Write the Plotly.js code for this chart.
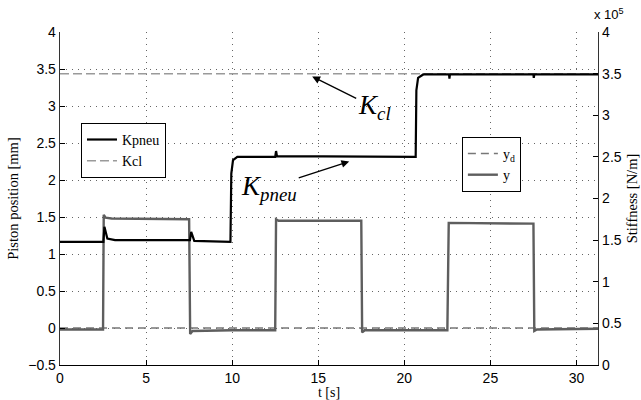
<!DOCTYPE html>
<html>
<head>
<meta charset="utf-8">
<script src="https://cdn.plot.ly/plotly-3.0.1.min.js"></script>
<style>html,body{margin:0;padding:0;background:#fff;}#chart{width:641px;height:400px;}</style>
</head>
<body>
<div id="chart"></div>
<script>
// Time samples [s] and piston position y [mm]
const tY = [0, 2.50, 2.54, 2.65, 3.0, 7.50, 7.56, 7.7, 10.0, 12.50, 12.55, 12.7, 17.50, 17.55, 17.7, 22.50, 22.58, 22.7, 27.50, 27.55, 27.7, 31.25];
const yPos = [-0.02, -0.02, 1.53, 1.49, 1.48, 1.47, -0.08, -0.04, -0.03, -0.03, 1.47, 1.45, 1.45, -0.06, -0.03, -0.03, 1.42, 1.42, 1.41, -0.04, -0.02, -0.01];

// Desired position y_d [mm]
const tYd = [0, 31.25];
const yDes = [0, 0];

// Pneumatic stiffness Kpneu [x1e5 N/m]
const tK = [0, 2.52, 2.58, 2.75, 3.2, 7.55, 7.62, 7.8, 9.90, 9.95, 10.05, 10.3, 12.50, 12.55, 12.6, 20.66, 20.70, 20.8, 21.1, 22.6, 22.62, 22.65, 27.5, 27.52, 27.55, 31.25];
const kPneu = [1.48, 1.48, 1.66, 1.52, 1.50, 1.50, 1.60, 1.49, 1.48, 2.30, 2.46, 2.50, 2.50, 2.57, 2.51, 2.50, 3.30, 3.45, 3.49, 3.49, 3.44, 3.49, 3.49, 3.45, 3.49, 3.49];

// Closed-loop stiffness Kcl [x1e5 N/m]
const tKcl = [0, 31.25];
const kCl = [3.5, 3.5];

const xTicks = [0, 5, 10, 15, 20, 25, 30];

const serif = "Liberation Serif, Times New Roman, serif";
const sans = "Liberation Sans, Arial, sans-serif";

const traces = [
  {x: tKcl, y: kCl, yaxis: 'y2', name: 'Kcl', mode: 'lines',
   line: {color: '#9a9a9a', width: 1.5, dash: '9px,4px'}, legend: 'legend', legendrank: 2},
  {x: tK, y: kPneu, yaxis: 'y2', name: 'Kpneu', mode: 'lines',
   line: {color: '#000', width: 2.2}, legend: 'legend', legendrank: 1},
  {x: tYd, y: yDes, name: 'y<sub>d</sub>', mode: 'lines',
   line: {color: '#777', width: 1.3, dash: '8px,5px'}, legend: 'legend2', legendrank: 1},
  {x: tY, y: yPos, name: 'y', mode: 'lines',
   line: {color: '#5e5e5e', width: 2.4}, legend: 'legend2', legendrank: 2}
];

const layout = {
  width: 641, height: 400,
  margin: {l: 60, r: 43, t: 32, b: 35},
  paper_bgcolor: '#fff', plot_bgcolor: '#fff',
  font: {family: sans, size: 14, color: '#000'},
  xaxis: {
    range: [0, 31.25], tickvals: xTicks, ticktext: xTicks.map(String),
    ticks: 'inside', ticklen: 5, tickcolor: '#000',
    showline: true, linecolor: '#000', linewidth: 1.3,
    showgrid: true, gridcolor: '#666', griddash: '1px,5px', gridwidth: 1,
    zeroline: false,
    title: {text: 't [s]', font: {family: serif, size: 14}, standoff: 1}
  },
  yaxis: {
    range: [-0.5, 4], dtick: 0.5, tick0: 0,
    ticks: 'inside', ticklen: 5, tickcolor: '#000',
    showline: true, linecolor: '#333', linewidth: 1.3,
    showgrid: true, gridcolor: '#666', griddash: '1px,5px', gridwidth: 1,
    zeroline: false,
    title: {text: 'Piston position [mm]', font: {family: serif, size: 14.5}, standoff: 6}
  },
  yaxis2: {
    overlaying: 'y', side: 'right', range: [0, 4], dtick: 0.5, tick0: 0,
    ticks: 'inside', ticklen: 5, tickcolor: '#000',
    showline: true, linecolor: '#333', linewidth: 1.3,
    showgrid: false, zeroline: false,
    title: {text: 'Stiffness [N/m]', font: {family: serif, size: 14.5}, standoff: 6}
  },
  showlegend: true,
  legend: {
    x: 0.039, y: 0.727, xanchor: 'left', yanchor: 'top',
    bgcolor: '#fff', bordercolor: '#000', borderwidth: 1,
    font: {family: serif, size: 14}, traceorder: 'normal'
  },
  legend2: {
    x: 0.747, y: 0.685, xanchor: 'left', yanchor: 'top',
    bgcolor: '#fff', bordercolor: '#000', borderwidth: 1,
    font: {family: serif, size: 14}, traceorder: 'normal'
  },
  annotations: [
    {xref: 'paper', yref: 'paper', x: 1, y: 1, xanchor: 'left', yanchor: 'bottom',
     text: 'x 10<sup>5</sup>', showarrow: false, font: {family: sans, size: 13}, xshift: -6, yshift: 8},
    {x: 14.65, y: 3.40, xref: 'x', yref: 'y', text: '<i>K</i><sub><i>cl</i></sub>',
     showarrow: true, arrowhead: 2, arrowsize: 1.2, arrowwidth: 1.3, arrowcolor: '#000',
     ax: 62, ay: 31, font: {family: serif, size: 27, color: '#000'}},
    {x: 16.8, y: 2.25, xref: 'x', yref: 'y', text: '<i>K</i><sub><i>pneu</i></sub>',
     showarrow: true, arrowhead: 2, arrowsize: 1.2, arrowwidth: 1.3, arrowcolor: '#000',
     ax: -80, ay: 26, font: {family: serif, size: 27, color: '#000'}}
  ]
};

Plotly.newPlot('chart', traces, layout, {displayModeBar: false, staticPlot: true});
</script>
</body>
</html>
